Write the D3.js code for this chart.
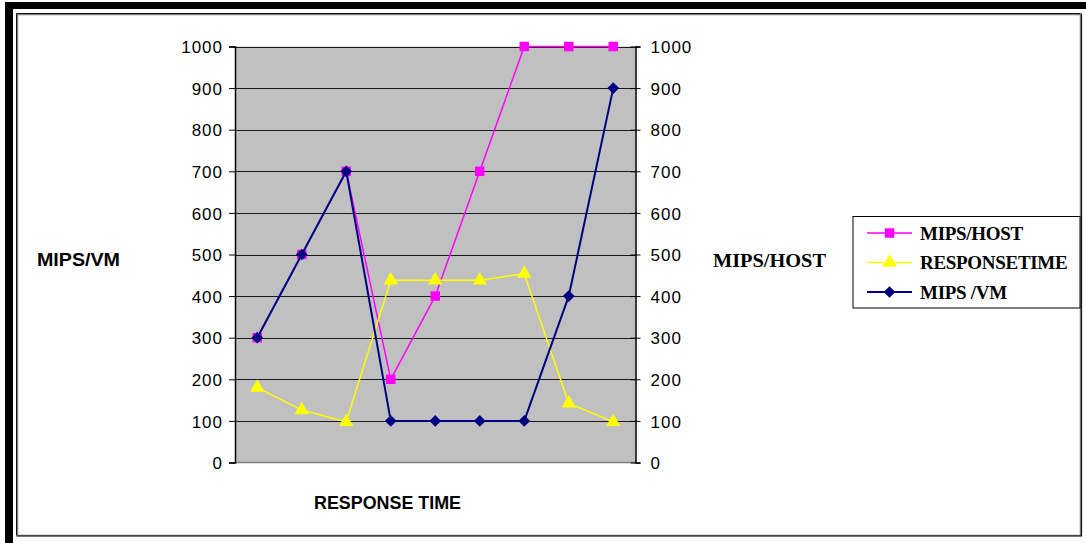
<!DOCTYPE html>
<html>
<head>
<meta charset="utf-8">
<script src="https://cdn.jsdelivr.net/npm/d3@7"></script>
<style>
  html, body { margin: 0; padding: 0; background: #ffffff; }
  svg { display: block; }
</style>
</head>
<body>
<svg id="chart" width="1086" height="543"></svg>
<script>
const categories = ["1", "2", "3", "4", "5", "6", "7", "8", "9"];
const mipsHost = [300, 500, 700, 200, 400, 700, 1000, 1000, 1000];
const responseTime = [180, 126, 98, 438, 438, 438, 454, 142, 98];
const mipsVm = [300, 500, 700, 100, 100, 100, 100, 400, 900];
const yTicks = [0, 100, 200, 300, 400, 500, 600, 700, 800, 900, 1000];
const seriesNames = ["MIPS/HOST", "RESPONSE TIME", "MIPS /VM"];
const legendNames = ["MIPS/HOST", "RESPONSETIME", "MIPS /VM"];
const leftTitle = "MIPS/VM";
const rightTitle = "MIPS/HOST";
const bottomTitle = "RESPONSE TIME";

const svg = d3.select("#chart");
const W = 1086, H = 543;
const plot = { left: 235, right: 635.5, top: 46.5, bottom: 462.5 };

svg.append("rect").attr("x", 0).attr("y", 0).attr("width", W).attr("height", H).attr("fill", "#fff");

// outer thick frame (top and left)
svg.append("rect").attr("x", 5).attr("y", 2).attr("width", W - 5).attr("height", 7).attr("fill", "#000");
svg.append("rect").attr("x", 5).attr("y", 2).attr("width", 8).attr("height", H - 2).attr("fill", "#000");
// inner chart border with slight shadow
svg.append("rect").attr("x", 17.5).attr("y", 14.5).attr("width", 1063).attr("height", 521)
  .attr("fill", "none").attr("stroke", "#808080").attr("stroke-width", 1.5);
svg.append("path").attr("d", `M16.5,535.5 V13.5 H1080.5`).attr("fill", "none").attr("stroke", "#111").attr("stroke-width", 1);
svg.append("path").attr("d", `M16.5,536 H1081.5 V13.5`).attr("fill", "none").attr("stroke", "#111").attr("stroke-width", 1.2);

const x = d3.scaleBand().domain(categories).range([plot.left, plot.right]);
const xc = d => x(d) + x.bandwidth() / 2;
const yL = d3.scaleLinear().domain([0, 1000]).range([plot.bottom, plot.top]);
const yR = d3.scaleLinear().domain([0, 1000]).range([plot.bottom, plot.top]);

// plot area
svg.append("rect").attr("x", plot.left).attr("y", plot.top)
  .attr("width", plot.right - plot.left).attr("height", plot.bottom - plot.top)
  .attr("fill", "#c0c0c0");

// gridlines
svg.append("g").selectAll("line").data(yTicks.filter(t => t > 0)).join("line")
  .attr("x1", plot.left).attr("x2", plot.right)
  .attr("y1", d => Math.round(yL(d)) + 0.5).attr("y2", d => Math.round(yL(d)) + 0.5)
  .attr("stroke", "#1a1a1a").attr("stroke-width", 1);
// bottom border of plot
svg.append("line").attr("x1", plot.left).attr("x2", plot.right)
  .attr("y1", plot.bottom).attr("y2", plot.bottom).attr("stroke", "#808080").attr("stroke-width", 1.5);

// left axis
const gL = svg.append("g").attr("transform", `translate(${plot.left},0)`)
  .call(d3.axisLeft(yL).tickValues(yTicks).tickSize(6).tickPadding(6).tickFormat(d3.format("d")));
gL.select(".domain").attr("stroke", "#000").attr("stroke-width", 1.5);
gL.selectAll(".tick line").attr("stroke", "#000");
gL.selectAll(".tick text").attr("font-family", "'Liberation Sans', Arial, sans-serif")
  .attr("font-size", 17).attr("letter-spacing", 1).attr("fill", "#000").attr("dy", "0.36em");

// right axis
const gR = svg.append("g").attr("transform", `translate(${plot.right},0)`)
  .call(d3.axisRight(yR).tickValues(yTicks).tickSize(5).tickPadding(10).tickFormat(d3.format("d")));
gR.select(".domain").attr("stroke", "#000").attr("stroke-width", 1.5);
gR.selectAll(".tick line").attr("stroke", "#000").attr("x1", -5);
gR.selectAll(".tick text").attr("font-family", "'Liberation Sans', Arial, sans-serif")
  .attr("font-size", 17).attr("letter-spacing", 1).attr("fill", "#000").attr("dy", "0.36em");

// series
const line = yScale => d3.line().x((d, i) => xc(categories[i])).y(d => yScale(d));
const series = [
  { name: seriesNames[0], data: mipsHost, color: "#ff00ff", width: 1.5, sym: d3.symbolSquare, size: 90, rot: 0, scale: yR },
  { name: seriesNames[1], data: responseTime, color: "#ffff00", width: 1.5, sym: d3.symbolTriangle, size: 90, rot: 0, scale: yR },
  { name: seriesNames[2], data: mipsVm, color: "#000080", width: 2, sym: d3.symbolSquare, size: 68, rot: 45, scale: yL }
];

series.forEach(s => {
  const g = svg.append("g");
  g.append("path").datum(s.data).attr("d", line(s.scale))
    .attr("fill", "none").attr("stroke", s.color).attr("stroke-width", s.width).attr("stroke-linejoin", "round");
  g.selectAll("path.m").data(s.data).join("path").attr("class", "m")
    .attr("transform", (d, i) => `translate(${xc(categories[i])},${s.scale(d)}) rotate(${s.rot})`)
    .attr("d", d3.symbol().type(s.sym).size(s.size)())
    .attr("fill", s.color);
});

// axis titles
svg.append("text").attr("x", 37).attr("y", 266).text(leftTitle)
  .attr("font-family", "'Liberation Sans', Arial, sans-serif").attr("font-weight", "bold")
  .attr("font-size", 18).attr("textLength", 83).attr("lengthAdjust", "spacingAndGlyphs");
svg.append("text").attr("x", 713).attr("y", 266.5).text(rightTitle)
  .attr("font-family", "'Liberation Serif', 'Times New Roman', serif").attr("font-weight", "bold")
  .attr("font-size", 19).attr("textLength", 113).attr("lengthAdjust", "spacingAndGlyphs");
svg.append("text").attr("x", 314).attr("y", 509).text(bottomTitle)
  .attr("font-family", "'Liberation Sans', Arial, sans-serif").attr("font-weight", "bold")
  .attr("font-size", 18).attr("textLength", 147).attr("lengthAdjust", "spacingAndGlyphs");

// legend
const lg = svg.append("g");
lg.append("rect").attr("x", 853).attr("y", 216.5).attr("width", 227).attr("height", 91.5)
  .attr("fill", "#fff").attr("stroke", "#000").attr("stroke-width", 1);
const rowY = [233, 262.5, 292];
series.forEach((s, i) => {
  lg.append("line").attr("x1", 867).attr("x2", 912).attr("y1", rowY[i]).attr("y2", rowY[i])
    .attr("stroke", s.color).attr("stroke-width", s.width);
  lg.append("path").attr("transform", `translate(889.5,${rowY[i]}) rotate(${s.rot})`)
    .attr("d", d3.symbol().type(s.sym).size(s.size)()).attr("fill", s.color);
  lg.append("text").attr("x", 920).attr("y", rowY[i] + 6.5).text(legendNames[i])
    .attr("font-family", "'Liberation Serif', 'Times New Roman', serif").attr("font-weight", "bold")
    .attr("font-size", 19).attr("letter-spacing", -0.3).attr("fill", "#000");
});
</script>
</body>
</html>
